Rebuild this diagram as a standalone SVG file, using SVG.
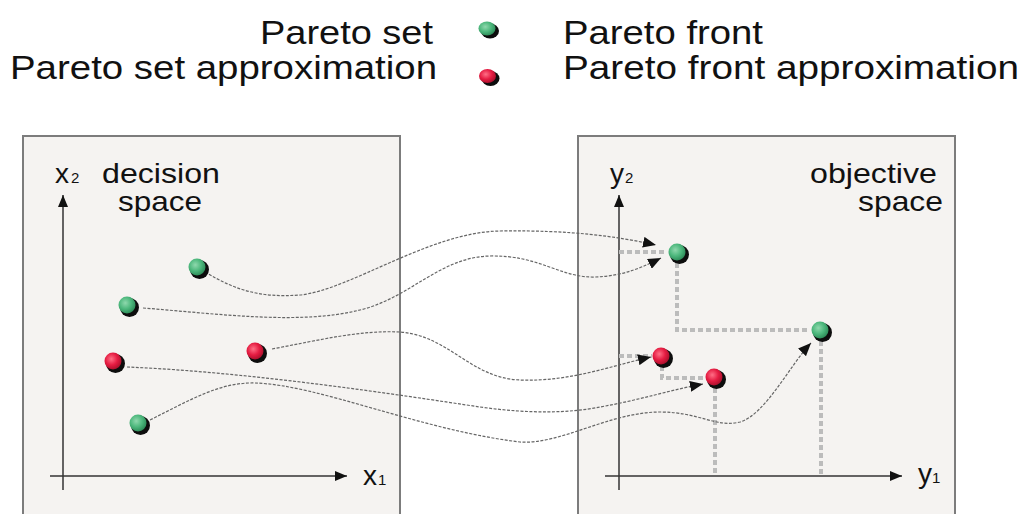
<svg xmlns="http://www.w3.org/2000/svg" width="1024" height="514" viewBox="0 0 1024 514">
  <defs>
    <radialGradient id="gGreen" cx="0.4" cy="0.38" r="0.65">
      <stop offset="0" stop-color="#8fd8ad"/>
      <stop offset="0.55" stop-color="#4cb77c"/>
      <stop offset="1" stop-color="#2c8a57"/>
    </radialGradient>
    <radialGradient id="gRed" cx="0.4" cy="0.38" r="0.65">
      <stop offset="0" stop-color="#ff6f86"/>
      <stop offset="0.55" stop-color="#e51c42"/>
      <stop offset="1" stop-color="#a80f2b"/>
    </radialGradient>
    <marker id="axisHead" viewBox="0 0 12 10" refX="12" refY="5" markerWidth="12" markerHeight="10" markerUnits="userSpaceOnUse" orient="auto">
      <path d="M0,0 L12,5 L0,10 Z" fill="#111"/>
    </marker>
    <marker id="mapHead" viewBox="0 0 13 11" refX="13" refY="5.5" markerWidth="13" markerHeight="11" markerUnits="userSpaceOnUse" orient="auto">
      <path d="M0,0 L13,5.5 L0,11 Z" fill="#111"/>
    </marker>
  </defs>
  <style>
    .box { fill: #f5f3f1; stroke: #7c7c7c; stroke-width: 2; }
    .axis { fill: none; stroke: #333; stroke-width: 1.5; marker-end: url(#axisHead); }
    .map { fill: none; stroke: #666; stroke-width: 1.2; stroke-dasharray: 3 1.5; marker-end: url(#mapHead); }
    .dom { fill: none; stroke: #bcbcbc; stroke-width: 4; stroke-dasharray: 5 3; }
    .shadow { fill: #0d0d0d; }
    .green { fill: url(#gGreen); }
    .red { fill: url(#gRed); }
    text { font-family: "Liberation Sans", Arial, sans-serif; fill: #111; }
    .legend { font-size: 34px; }
    .label { font-size: 28px; }
    .var { font-size: 28px; }
    .sub { font-size: 15px; }
  </style>

  <rect width="1024" height="514" fill="#ffffff"/>

  <!-- legend -->
  <g id="legend">
    <text class="legend" x="433" y="44" text-anchor="end" textLength="173" lengthAdjust="spacingAndGlyphs">Pareto set</text>
    <text class="legend" x="437" y="79" text-anchor="end" textLength="427" lengthAdjust="spacingAndGlyphs">Pareto set approximation</text>
    <text class="legend" x="563" y="44" textLength="200" lengthAdjust="spacingAndGlyphs">Pareto front</text>
    <text class="legend" x="563" y="79" textLength="456" lengthAdjust="spacingAndGlyphs">Pareto front approximation</text>
    <ellipse class="shadow" cx="490" cy="31" rx="9" ry="7.5"/>
    <ellipse class="green" cx="487" cy="28.5" rx="8.5" ry="7"/>
    <ellipse class="shadow" cx="490.5" cy="78.5" rx="9" ry="7.5"/>
    <ellipse class="red" cx="487.5" cy="76" rx="8.5" ry="7"/>
  </g>

  <!-- decision space panel -->
  <g id="decision-space">
    <rect class="box" x="23" y="136" width="377" height="390"/>
    <path class="axis" d="M63,490 V195"/>
    <path class="axis" d="M50,476 H347"/>
    <text class="var" x="55" y="183">x</text>
    <text class="sub" x="71" y="183">2</text>
    <text class="var" x="363" y="485">x</text>
    <text class="sub" x="378" y="485">1</text>
    <text class="label" x="102" y="183" textLength="118" lengthAdjust="spacingAndGlyphs">decision</text>
    <text class="label" x="118" y="211" textLength="84" lengthAdjust="spacingAndGlyphs">space</text>
  </g>

  <!-- objective space panel -->
  <g id="objective-space">
    <rect class="box" x="578" y="136" width="377" height="390"/>
    <path class="axis" d="M619,490 V195"/>
    <path class="axis" d="M605,476 H902"/>
    <text class="var" x="610" y="183">y</text>
    <text class="sub" x="625" y="183">2</text>
    <text class="var" x="918" y="483">y</text>
    <text class="sub" x="932" y="483">1</text>
    <text class="label" x="937" y="183" text-anchor="end" textLength="127" lengthAdjust="spacingAndGlyphs">objective</text>
    <text class="label" x="943" y="211" text-anchor="end" textLength="85" lengthAdjust="spacingAndGlyphs">space</text>
  </g>

  <!-- dominated-region outlines in objective space -->
  <g id="dominance-lines">
    <path class="dom" d="M619,252 H667"/>
    <path class="dom" d="M677,263 V330 H810"/>
    <path class="dom" d="M821,341 V476"/>
    <path class="dom" d="M619,356 H652"/>
    <path class="dom" d="M662,366 V378 H704"/>
    <path class="dom" d="M715,388 V476"/>
  </g>

  <!-- mappings from decision space to objective space -->
  <g id="connectors">
    <path class="map" d="M205,272 C235,290 260,298 300,295 C350,290 430,232 500,231 C570,230 615,236 656,245"/>
    <path class="map" d="M143,308 C220,314 300,325 360,310 C410,298 440,257 490,256 C540,255 560,278 595,277 C625,276 645,266 661,258"/>
    <path class="map" d="M272,349 C320,340 360,330 400,332 C450,336 470,378 520,380 C570,382 610,366 651,357"/>
    <path class="map" d="M127,367 C250,372 400,395 480,407 C530,414 570,413 600,407 C640,400 670,390 703,384"/>
    <path class="map" d="M150,420 C190,400 220,382 255,383 C320,385 420,430 520,442 C560,445 610,412 660,412 C700,412 715,428 740,422 C765,415 790,365 811,343"/>
  </g>

  <!-- Pareto set points -->
  <g id="set-g1"><circle class="shadow" cx="199.5" cy="269.5" r="9.5"/><circle class="green" cx="197" cy="267" r="8.5"/></g>
  <g id="set-g2"><circle class="shadow" cx="129.5" cy="307.5" r="9.5"/><circle class="green" cx="127" cy="305" r="8.5"/></g>
  <g id="set-g3"><circle class="shadow" cx="140.5" cy="425.5" r="9.5"/><circle class="green" cx="138" cy="423" r="8.5"/></g>
  <!-- Pareto set approximation points -->
  <g id="set-r1"><circle class="shadow" cx="115.5" cy="363.5" r="9.5"/><circle class="red" cx="113" cy="361" r="8.5"/></g>
  <g id="set-r2"><circle class="shadow" cx="257.5" cy="353.5" r="9.5"/><circle class="red" cx="255" cy="351" r="8.5"/></g>

  <!-- Pareto front points -->
  <g id="front-g1"><circle class="shadow" cx="679.5" cy="254.5" r="9.5"/><circle class="green" cx="677" cy="252" r="8.5"/></g>
  <g id="front-g2"><circle class="shadow" cx="822.5" cy="332.5" r="9.5"/><circle class="green" cx="820" cy="330" r="8.5"/></g>
  <!-- Pareto front approximation points -->
  <g id="front-r1"><circle class="shadow" cx="663.5" cy="358.5" r="9.5"/><circle class="red" cx="661" cy="356" r="8.5"/></g>
  <g id="front-r2"><circle class="shadow" cx="716.5" cy="379.5" r="9.5"/><circle class="red" cx="714" cy="377" r="8.5"/></g>
</svg>
